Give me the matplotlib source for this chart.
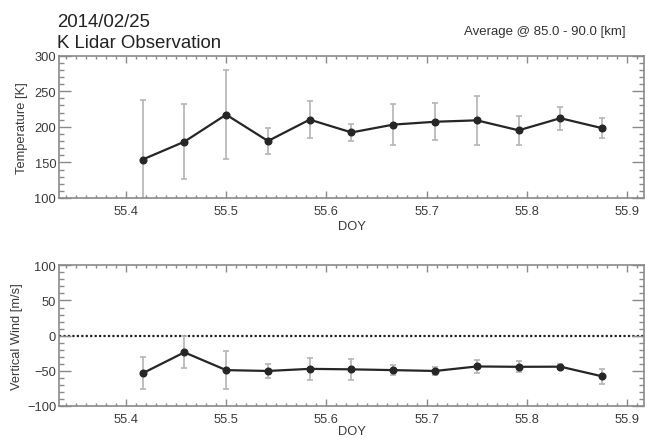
import matplotlib
matplotlib.use("Agg")
import matplotlib.pyplot as plt
from matplotlib.ticker import MultipleLocator
import numpy as np

plt.rcParams['font.family'] = ['Liberation Sans', 'DejaVu Sans']

# ---- data ----
doy = [55.4167, 55.4583, 55.5000, 55.5417, 55.5833, 55.6250,
       55.6667, 55.7083, 55.7500, 55.7917, 55.8333, 55.8750]
temperature = [154, 179, 217, 180, 210, 192, 203, 207, 209, 195, 212, 198]
temperature_err = [83, 53, 62, 18, 26, 12, 29, 26, 34, 20, 16, 14]
vertical_wind = [-53.5, -23.7, -49.0, -50.2, -47.2, -47.9,
                 -49.0, -50.2, -43.8, -44.3, -44.1, -57.8]
vertical_wind_err = [23, 22.5, 27, 10.5, 15.4, 14.7, 7.6, 5.2, 9.3, 7.8, 3.8, 10.9]

title_date = "2014/02/25"
title_name = "K Lidar Observation"
avg_text = "Average @ 85.0 - 90.0 [km]"

W, H = 647, 439
fig = plt.figure(figsize=(W / 100, H / 100), dpi=100)

spine_c = '#8a8a8a'
text_c = '#3a3a3a'
line_c = '#262626'
err_c = '#b4b4b4'


def px_axes(left, top, right, bottom):
    return fig.add_axes([left / W, 1 - bottom / H, (right - left) / W, (bottom - top) / H])


def style(ax, ymajor, yminor, xlabelpad):
    ax.set_xlim(55.3333, 55.9167)
    ax.xaxis.set_major_locator(MultipleLocator(0.1))
    ax.xaxis.set_minor_locator(MultipleLocator(0.01))
    ax.yaxis.set_major_locator(MultipleLocator(ymajor))
    ax.yaxis.set_minor_locator(MultipleLocator(yminor))
    ax.tick_params(which='both', direction='in', top=True, right=True,
                   color=spine_c, labelcolor=text_c, labelsize=9.3)
    ax.tick_params(axis='y', which='major', length=8.5, width=1, pad=2)
    ax.tick_params(axis='y', which='minor', length=3.5, width=1)
    ax.tick_params(axis='x', which='major', length=5, width=1, pad=5)
    ax.tick_params(axis='x', which='minor', length=2.5, width=1)
    for s in ax.spines.values():
        s.set_color(spine_c)
        s.set_linewidth(1.2)
    ax.xaxis.set_major_formatter(matplotlib.ticker.FormatStrFormatter('%.1f'))
    ax.set_xlabel('DOY', fontsize=9.3, color=text_c, labelpad=xlabelpad)


ax1 = px_axes(59, 56.5, 644, 199)
ax1.errorbar(doy, temperature, yerr=temperature_err, fmt='none', ecolor=err_c,
             elinewidth=1.2, capsize=2.5, capthick=1.2, zorder=2)
ax1.plot(doy, temperature, '-o', color=line_c, lw=1.6, markersize=4.8, zorder=3)
ax1.set_ylim(100, 300)
style(ax1, 50, 10, 2)
ax1.set_ylabel('Temperature [K]', fontsize=9.3, color=text_c, labelpad=5)

ax2 = px_axes(59, 266.3, 644, 407)
ax2.axhline(0, color='#222222', lw=1.6, ls=(0, (1, 1)), zorder=1)
ax2.errorbar(doy, vertical_wind, yerr=vertical_wind_err, fmt='none', ecolor=err_c,
             elinewidth=1.2, capsize=2.5, capthick=1.2, zorder=2)
ax2.plot(doy, vertical_wind, '-o', color=line_c, lw=1.6, markersize=4.8, zorder=3)
ax2.set_ylim(-100, 100)
style(ax2, 50, 10, 0)
ax2.set_ylabel('Vertical Wind [m/s]', fontsize=9.3, color=text_c, labelpad=3)

fig.text(57 / W, 1 - 27.3 / H, title_date, fontsize=13.4, color='#222222',
         ha='left', va='baseline')
fig.text(57 / W, 1 - 48.3 / H, title_name, fontsize=13.4, color='#222222',
         ha='left', va='baseline')
fig.text(626 / W, 1 - 35.3 / H, avg_text, fontsize=9.5, color='#333333',
         ha='right', va='baseline')

fig.savefig('out.png', dpi=100)
